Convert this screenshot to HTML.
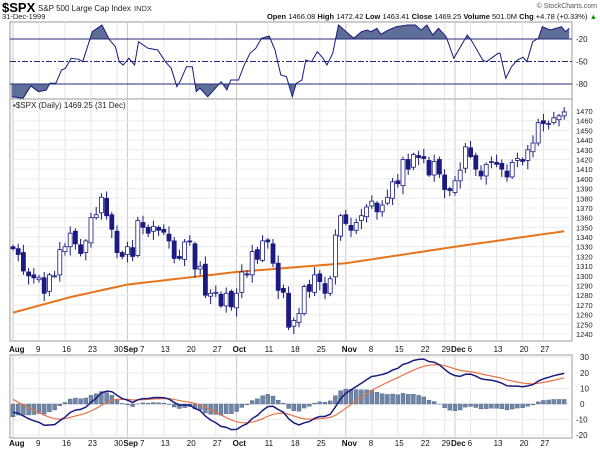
<!DOCTYPE html>
<html><head><meta charset="utf-8"><style>
body{margin:0;background:#fff;}
svg{display:block;font-family:"Liberation Sans",sans-serif;}
</style></head><body>
<svg id="s" width="600" height="449" viewBox="0 0 600 449" xmlns="http://www.w3.org/2000/svg">
<text x="2" y="12" font-size="13" font-weight="bold" fill="#000">$SPX</text>
<text x="38" y="11" font-size="8" fill="#222">S&amp;P 500 Large Cap Index</text>
<text x="134" y="11" font-size="7.5" fill="#333">INDX</text>
<text x="597" y="8" font-size="7" fill="#555" text-anchor="end">© StockCharts.com</text>
<text x="2" y="19" font-size="7.5" fill="#222">31-Dec-1999</text>
<text x="597" y="19" font-size="7.5" fill="#111" text-anchor="end"><tspan font-weight="bold">Open</tspan> 1466.08 <tspan font-weight="bold">High</tspan> 1472.42 <tspan font-weight="bold">Low</tspan> 1463.41 <tspan font-weight="bold">Close</tspan> 1469.25 <tspan font-weight="bold">Volume</tspan> 501.0M <tspan font-weight="bold">Chg</tspan> +4.78 (+0.33%) <tspan fill="#090">▲</tspan></text>
<g id="g"></g>
</svg>
<script>
const C=[1328,1322,1305,1300,1298, 1298,1282,1301,1300,1327, 1330,1344,1333,1323,1336, 1360,1363,1381,1362,1348, 1324,1320,
1330,1320,1357, 1350,1344,1351,1347, 1345,1336,1318,1318,1335, 1335,1307,1310,1280,1282, 1283,1269,1282,1268,1282,
1304,1301,1325,1317,1336, 1335,1313,1285,1283,1247, 1254,1261,1289,1284,1301, 1294,1282,1297,1342,1362,
1354,1347,1355,1362,1371, 1377,1366,1373,1381,1397, 1395,1420,1410,1425,1422, 1421,1404,1418,1405,
1389,1388,1398,1409,1433, 1423,1410,1403,1415,1418, 1415,1410,1402,1417,1421, 1418,1430,1437,1458, 1457,1457,1463,1465,1469];
const n=C.length;
const X=i=>13+i*5.2;
const PY=p=>111+(1470-p)*0.9696;
let O=[],H=[],L=[];
for(let i=0;i<n;i++){let o=i?C[i-1]+((i*7)%5-2):1330;O.push(o);
 H.push(Math.max(o,C[i])+2+((i*3)%7));L.push(Math.min(o,C[i])-2-((i*5)%8));}
let s='';
const g=document.getElementById('g');
const weeks=[[0,'Aug',1],[5,'9'],[10,'16'],[15,'23'],[20,'30'],[22,'Sep',1],[25,'7'],[29,'13'],[34,'20'],[39,'27'],[43,'Oct',1],[49,'11'],[54,'18'],[59,'25'],[64,'Nov',1],[69,'8'],[74,'15'],[79,'22'],[83,'29'],[85,'Dec',1],[88,'6'],[93,'13'],[98,'20'],[102,'27']];
function vgrid(y1,y2){for(const w of weeks){s+=`<line x1="${X(w[0])}" y1="${y1}" x2="${X(w[0])}" y2="${y2}" stroke="${w[2]?'#c8c8c8':'#e6e6e6'}" stroke-width="1"/>`;}}
function labels(y){for(const w of weeks){s+=`<text x="${X(w[0])-(w[2]?4:3)}" y="${y}" font-size="8" ${w[2]?'font-weight="bold"':''} fill="#111">${w[1]}</text>`;}}
s+=`<rect x="10" y="22" width="562" height="77" fill="#fff" stroke="#999"/>`;vgrid(22,99);
const WY=v=>24+(-v)*0.75;
const WP=[[30,290],[60,295],[80,258],[100,275],[120,270],[130,250],[145,250],[160,210],[170,205],[185,175],[205,178],[215,185],[240,95],[265,75],[285,120],[300,140],[310,185],[320,195],[335,175],[350,195],[360,125],[385,145],[410,150],[430,185],[445,205],[460,260],[470,240],[485,200],[500,200],[510,275],[520,265],[540,290],[575,245],[590,270],[600,240],[620,240],[635,195],[650,160],[665,145],[680,115],[700,108],[715,150],[730,225],[745,230],[760,290],[770,250],[785,240],[795,180],[810,185],[825,155],[840,175],[850,195],[865,160],[880,75],[900,95],[920,115],[940,95],[955,90],[965,95],[980,85],[990,103],[1010,90],[1030,80],[1060,75],[1080,75],[1095,90],[1110,75],[1125,105],[1140,85],[1160,110],[1180,175],[1215,105],[1225,120],[1255,180],[1265,185],[1295,160],[1300,160],[1315,235],[1330,200],[1345,180],[1360,172],[1370,185],[1385,125],[1400,115],[1410,80],[1430,90],[1445,85],[1460,80],[1470,95],[1480,85]];
let wp=WP.map(p=>`${(p[0]/2.6).toFixed(1)},${(p[1]/3).toFixed(1)}`).join(' ');
const x0=(WP[0][0]/2.6).toFixed(1),x1=(WP[WP.length-1][0]/2.6).toFixed(1);
s+=`<clipPath id="ca"><rect x="0" y="0" width="600" height="${WY(-20)}"/></clipPath><clipPath id="cb"><rect x="0" y="${WY(-80)}" width="600" height="40"/></clipPath>`;
s+=`<polygon clip-path="url(#ca)" points="${x0},${WY(-20)} ${wp} ${x1},${WY(-20)}" fill="#5d6f96"/>`;
s+=`<polygon clip-path="url(#cb)" points="${x0},${WY(-80)} ${wp} ${x1},${WY(-80)}" fill="#5d6f96"/>`;
s+=`<line x1="10" x2="572" y1="${WY(-20)}" y2="${WY(-20)}" stroke="#2a2a7a"/><line x1="10" x2="572" y1="${WY(-80)}" y2="${WY(-80)}" stroke="#2a2a7a"/><line x1="10" x2="572" y1="${WY(-50)}" y2="${WY(-50)}" stroke="#2a2a7a" stroke-dasharray="6,2,2,2"/>`;
s+=`<polyline points="${wp}" fill="none" stroke="#1a1a80" stroke-width="1"/>`;
for(const v of [-20,-50,-80])s+=`<text x="576" y="${WY(v)+3}" font-size="8" fill="#222">${v}</text>`;
s+=`<rect x="10" y="99" width="562" height="242" fill="#fff" stroke="#999"/>`;vgrid(99,341);
for(let p=1240;p<=1470;p+=10){s+=`<line x1="10" x2="572" y1="${PY(p)}" y2="${PY(p)}" stroke="#ececec"/><text x="576" y="${PY(p)+3}" font-size="7.5" fill="#222">${p}</text>`;}
s+=`<text x="13" y="108" font-size="8" fill="#222">▪$SPX (Daily) 1469.25 (31 Dec)</text>`;
const M=[[0,1262],[11,1278],[22,1291],[43,1304],[64,1313],[85,1330],[106,1346]];
let mp=[];for(let i=0;i<n;i++){let k=0;while(k<M.length-2&&i>M[k+1][0])k++;let a=M[k],b=M[k+1],t=(i-a[0])/(b[0]-a[0]);mp.push(`${X(i)},${PY(a[1]+(b[1]-a[1])*t)}`);}
s+=`<polyline points="${mp.join(' ')}" fill="none" stroke="#e8731a" stroke-width="2" stroke-linejoin="round"/>`;
for(let i=0;i<n;i++){let x=X(i),up=C[i]>=O[i],t=PY(Math.max(O[i],C[i])),b=PY(Math.min(O[i],C[i]));
 s+=`<line x1="${x}" x2="${x}" y1="${PY(H[i])}" y2="${PY(L[i])}" stroke="#1a1a80"/>`;
 s+=`<rect x="${x-2}" y="${t}" width="4" height="${Math.max(1,b-t)}" fill="${up?'#fff':'#1a1a80'}" stroke="#1a1a80" stroke-width="0.8"/>`;}
labels(352);
s+=`<rect x="10" y="355" width="562" height="83" fill="#fff" stroke="#999"/>`;vgrid(355,438);
const MY=v=>404-v*1.56;
for(let v=-20;v<=30;v+=10){s+=`<line x1="10" x2="572" y1="${MY(v)}" y2="${MY(v)}" stroke="#ececec"/><text x="${v<0?576:580}" y="${MY(v)+3}" font-size="8" fill="#222">${v}</text>`;}
let e12=1336,e26=1341,sig=5,MA=[],SG=[];
for(let i=0;i<n;i++){e12+=(C[i]-e12)*2/13;e26+=(C[i]-e26)*2/27;let m=e12-e26;sig+=(m-sig)*0.2;MA.push(m);SG.push(sig);}
for(let i=0;i<n;i++){let h=MA[i]-SG[i];s+=`<rect x="${X(i)-2}" y="${Math.min(MY(0),MY(h))}" width="4" height="${Math.abs(MY(h)-MY(0))}" fill="#6f86a6" stroke="#4a5f80" stroke-width="0.4"/>`;}
s+=`<polyline points="${SG.map((v,i)=>X(i)+','+MY(v)).join(' ')}" fill="none" stroke="#e8734a" stroke-width="1.2"/>`;
s+=`<polyline points="${MA.map((v,i)=>X(i)+','+MY(v)).join(' ')}" fill="none" stroke="#1a1a80" stroke-width="1.5"/>`;
labels(446);
g.innerHTML=s;
</script>
</body></html>
